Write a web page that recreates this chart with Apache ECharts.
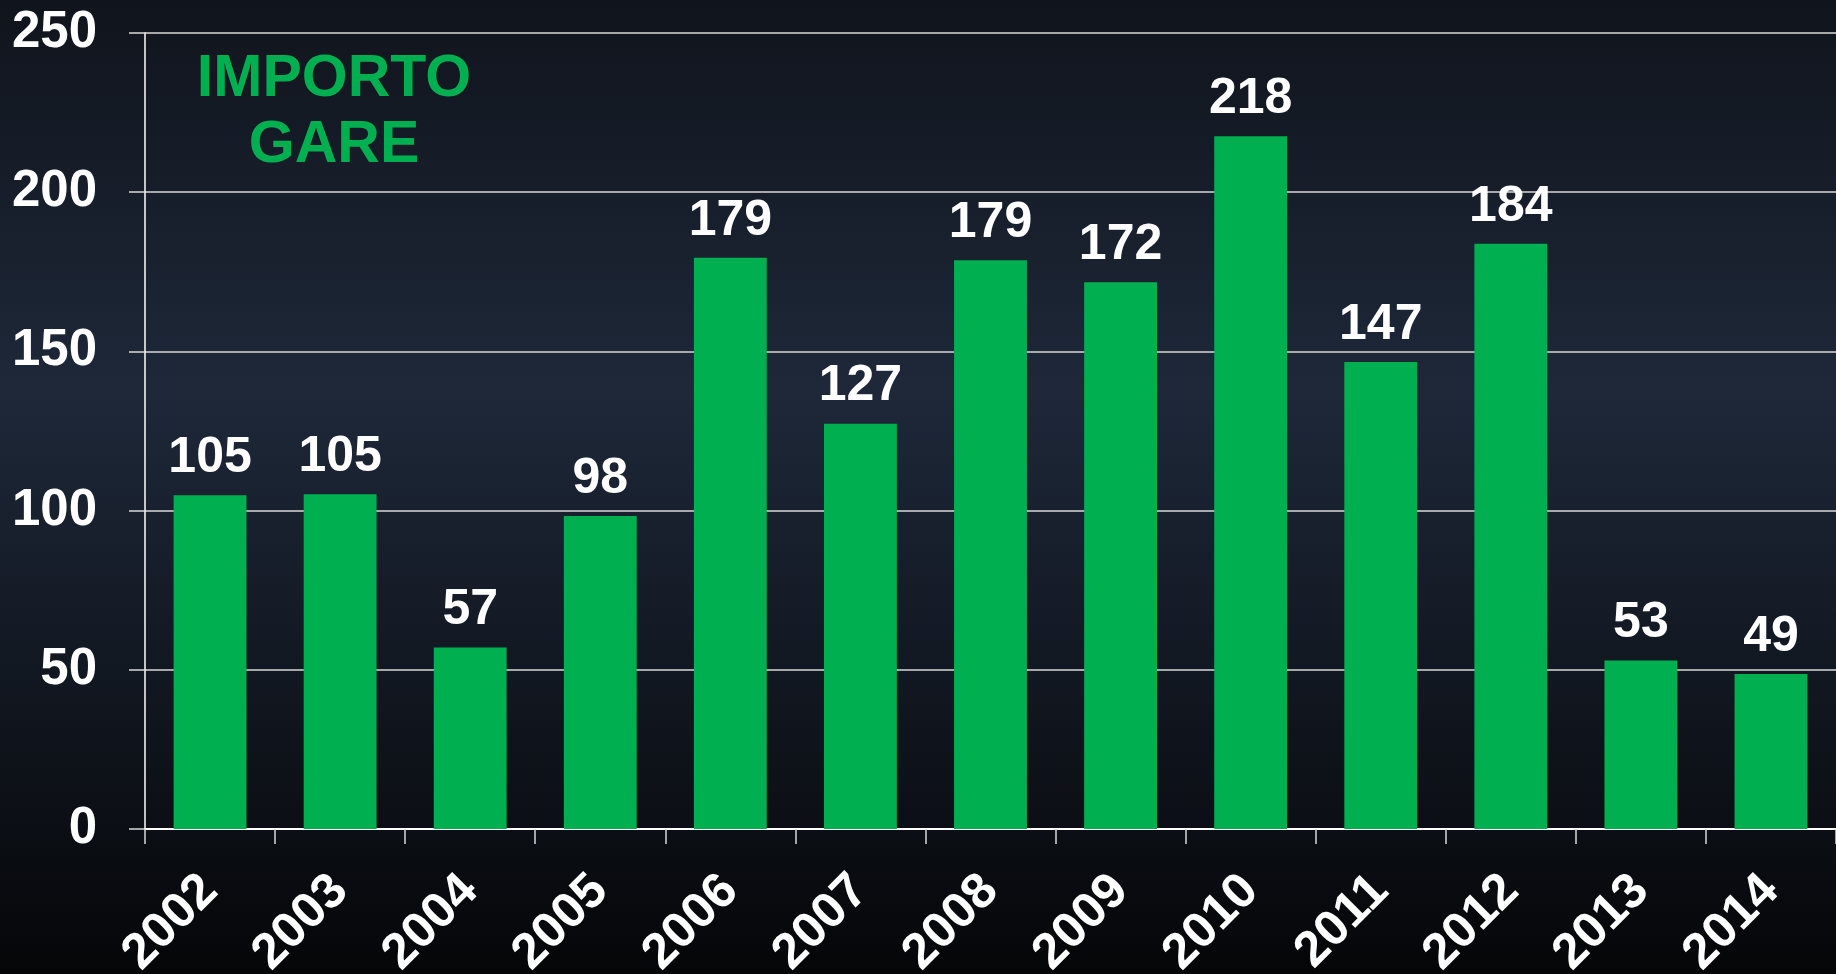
<!DOCTYPE html>
<html>
<head>
<meta charset="utf-8">
<script src="https://cdn.jsdelivr.net/npm/echarts@6/dist/echarts.min.js"></script>
<style>
  html, body { margin: 0; padding: 0; }
  #main { width: 1836px; height: 974px; }
</style>
</head>
<body>
<div id="main"></div>
<script>
// 年份
const years = ['2002', '2003', '2004', '2005', '2006', '2007', '2008', '2009', '2010', '2011', '2012', '2013', '2014'];
// 柱子高度
const importo = [104.8, 105.1, 57.0, 98.3, 179.4, 127.3, 178.6, 171.7, 217.6, 146.7, 183.8, 52.9, 48.7];
const yTicks = [0, 50, 100, 150, 200, 250];

const font = 'Liberation Sans, Arial, sans-serif';
const myChart = echarts.init(document.getElementById('main'));

const option = {
  backgroundColor: {
    type: 'linear', x: 0, y: 0, x2: 0, y2: 1,
    colorStops: [
      { offset: 0, color: '#10141c' },
      { offset: 0.4, color: '#1e2839' },
      { offset: 1, color: '#050608' }
    ]
  },
  title: {
    text: 'IMPORTO\nGARE',
    left: 329,
    top: 42,
    textAlign: 'center',
    textStyle: {
      color: '#00b050',
      fontFamily: font,
      fontWeight: 'bold',
      fontSize: 59,
      lineHeight: 66
    }
  },
  grid: { left: 145, right: 0, top: 33, bottom: 145, containLabel: false, outerBoundsMode: 'none' },
  xAxis: {
    type: 'category',
    data: years,
    axisLine: { lineStyle: { color: '#ffffff', width: 2 } },
    axisTick: { show: true, length: 15, lineStyle: { color: '#d9d9d9', width: 1.5 } },
    axisLabel: {
      rotate: 45,
      margin: 54,
      color: '#ffffff',
      fontFamily: font,
      fontWeight: 'bold',
      fontSize: 50
    }
  },
  yAxis: {
    type: 'value',
    min: yTicks[0],
    max: yTicks[yTicks.length - 1],
    interval: 50,
    axisLine: { show: true, lineStyle: { color: '#ffffff', width: 1.5 } },
    axisTick: { show: true, length: 16, lineStyle: { color: '#d9d9d9', width: 1.5 } },
    splitLine: { lineStyle: { color: '#d9d9d9', width: 1.5 } },
    axisLabel: {
      margin: 48,
      color: '#ffffff',
      fontFamily: font,
      fontWeight: 'bold',
      fontSize: 51
    }
  },
  series: [{
    name: 'IMPORTO GARE',
    type: 'bar',
    data: importo,
    barWidth: '56%',
    itemStyle: { color: '#00b050' },
    label: {
      show: true,
      position: 'top',
      distance: 12,
      color: '#ffffff',
      fontFamily: font,
      fontWeight: 'bold',
      fontSize: 50,
      formatter: p => Math.round(p.value)
    }
  }]
};

myChart.setOption(option);
</script>
</body>
</html>
